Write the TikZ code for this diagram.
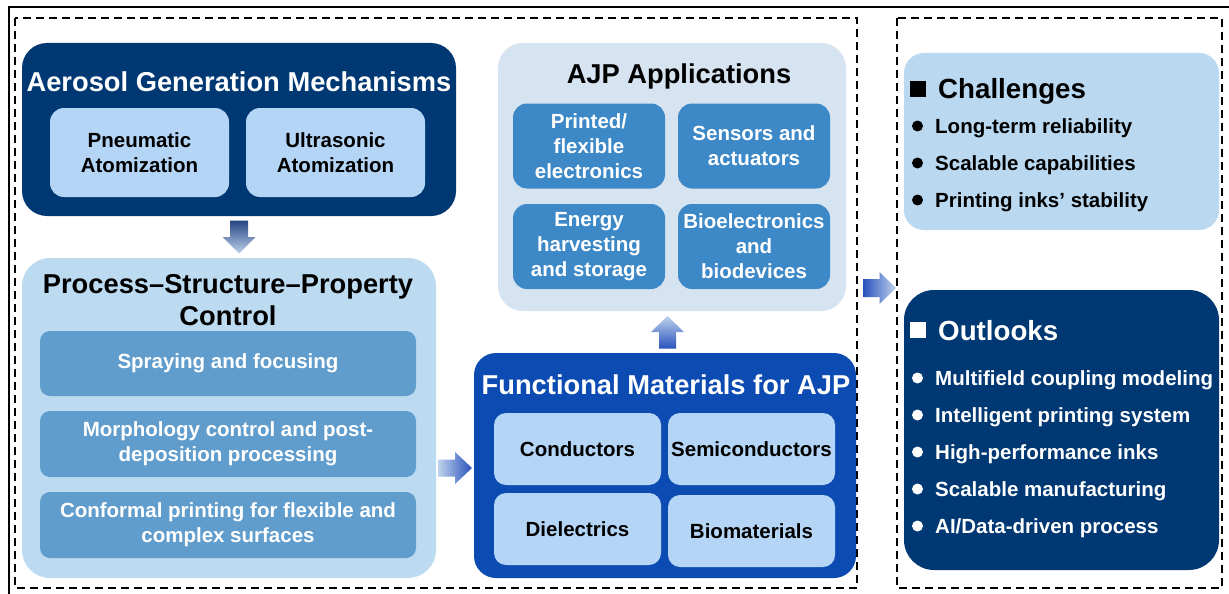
\documentclass[tikz,border=0pt]{standalone}
\usepackage{fontspec}
\setmainfont{Liberation Sans}
\usetikzlibrary{calc}

\definecolor{navy}{RGB}{0,56,115}
\definecolor{paleblue}{RGB}{180,213,246}
\definecolor{procbg}{RGB}{188,218,240}
\definecolor{procin}{RGB}{96,157,204}
\definecolor{funcbg}{RGB}{12,76,178}
\definecolor{appbg}{RGB}{214,228,241}
\definecolor{appin}{RGB}{61,136,199}
\definecolor{chalbg}{RGB}{186,216,239}
\definecolor{arrnavy}{RGB}{38,68,132}
\definecolor{arrroyal}{RGB}{42,82,188}
\definecolor{arrpale}{RGB}{190,210,236}

\begin{document}
\begin{tikzpicture}[x=1pt,y=-1pt,
  sz/.style 2 args={minimum width=#1pt, minimum height=#2pt, inner sep=0pt, outer sep=0pt},
  titletext/.style={font=\fontsize{27.3}{32}\selectfont\bfseries, align=center, inner sep=0pt},
  headtext/.style={font=\fontsize{27.7}{32}\selectfont\bfseries, inner sep=0pt, anchor=base west},
  bodytext/.style={font=\fontsize{20.5}{25}\selectfont\bfseries, align=center},
  itemtext/.style={font=\fontsize{20.5}{25}\selectfont\bfseries, inner sep=0pt, anchor=base west},
  groupframe/.style={draw=black, line width=1.6pt, dash pattern=on 8pt off 5pt},
  bullet/.style={circle, minimum size=11pt, inner sep=0pt},
  sqmark/.style={minimum size=16pt, inner sep=0pt}
]
\useasboundingbox (0,0) rectangle (1229,594);
\clip (0,0) rectangle (1229,594);
\fill[white] (0,0) rectangle (1229,594);

% outer frame and the two dashed groups
\draw[line width=2pt] (8.5,7) rectangle (1250,620);
\draw[groupframe] (15,18) rectangle (857,588);
\draw[groupframe] (897,18) rectangle (1222,588);

% ---- Aerosol generation ----
\node[sz={434}{173}, fill=navy, rounded corners=25pt] (agm) at (239,129.5) {};
\node[titletext, text=white] (agmT) at (239,82) {Aerosol Generation Mechanisms};
\node[sz={179}{89}, fill=paleblue, rounded corners=14pt, bodytext] (pneu) at (139.5,152.5) {Pneumatic\\Atomization};
\node[sz={179}{89}, fill=paleblue, rounded corners=14pt, bodytext] (ultra) at (335.5,152.5) {Ultrasonic\\Atomization};

% ---- Process-structure-property ----
\node[sz={414}{320}, fill=procbg, rounded corners=28pt] (psp) at (229,418) {};
\node[titletext] (pspT) at (228,300) {Process--Structure--Property\\Control};
\node[sz={376}{65}, fill=procin, rounded corners=10pt, bodytext, text=white] (spray) at (228,363.5) {Spraying and focusing};
\node[sz={376}{66}, fill=procin, rounded corners=10pt, bodytext, text=white] (morph) at (228,444) {Morphology control and post-\\deposition processing};
\node[sz={376}{66}, fill=procin, rounded corners=10pt, bodytext, text=white] (conf) at (228,525) {Conformal printing for flexible and\\complex surfaces};

% ---- Functional materials ----
\node[sz={382}{225}, fill=funcbg, rounded corners=22pt] (fm) at (665,465.5) {};
\node[titletext, text=white] (fmT) at (666,385) {Functional Materials for AJP};
\node[sz={167}{72}, fill=paleblue, rounded corners=12pt, bodytext] (cond) at (577.5,449) {Conductors};
\node[sz={167}{72}, fill=paleblue, rounded corners=12pt, bodytext] (semi) at (751.5,449) {Semiconductors};
\node[sz={167}{72}, fill=paleblue, rounded corners=12pt, bodytext] (diel) at (577.5,529) {Dielectrics};
\node[sz={167}{72}, fill=paleblue, rounded corners=12pt, bodytext] (biom) at (751.5,531) {Biomaterials};

% ---- Applications ----
\node[sz={348}{268}, fill=appbg, rounded corners=25pt] (app) at (672,177) {};
\node[titletext] (appT) at (679,76) {AJP Applications};
\node[sz={152}{85}, fill=appin, rounded corners=14pt, bodytext, text=white] (print) at (589,146) {Printed/\\flexible\\electronics};
\node[sz={152}{85}, fill=appin, rounded corners=14pt, bodytext, text=white] (sens) at (754,146) {Sensors and\\actuators};
\node[sz={152}{85}, fill=appin, rounded corners=14pt, bodytext, text=white] (energy) at (589,246.5) {Energy\\harvesting\\and storage};
\node[sz={152}{85}, fill=appin, rounded corners=14pt, bodytext, text=white] (bioel) at (754,246.5) {Bioelectronics\\and\\biodevices};

% ---- Challenges ----
\node[sz={315}{177}, fill=chalbg, rounded corners=20pt] (chal) at (1061.5,141.5) {};
\node[sqmark, fill=black] (chalM) at (918,89) {};
\node[headtext] (chalT) at (938,98.9) {Challenges};
\foreach \y/\t [count=\i] in {126/{Long-term reliability}, 163/{Scalable capabilities}, 200/{Printing inks’ stability}}{
  \node[bullet, fill=black] (chalB\i) at (917.5,\y) {};
  \node[itemtext] (chalI\i) at (935,\y+7.3) {\t};
}

% ---- Outlooks ----
\node[sz={315}{280}, fill=navy, rounded corners=30pt] (outl) at (1061.5,430) {};
\node[sqmark, fill=white] (outlM) at (918,330) {};
\node[headtext, text=white] (outlT) at (938,340.9) {Outlooks};
\foreach \y/\t [count=\i] in {378/{Multifield coupling modeling}, 415/{Intelligent printing system}, 452/{High-performance inks}, 489/{Scalable manufacturing}, 526/{AI/Data-driven process}}{
  \node[bullet, fill=white] (outlB\i) at (917.5,\y) {};
  \node[itemtext, text=white] (outlI\i) at (935,\y+7.3) {\t};
}

% ---- block arrows between the stages ----
% generation -> process control (downward)
\coordinate (a1) at ($(agm.south)!0.5!(agm.south|-psp.north)$);
\shade[top color=arrnavy, bottom color=arrpale]
  ($(a1)+(-9,-16.5)$) -- ++(18,0) -- ++(0,16.5) -- ++(7.5,0) -- ($(a1)+(0,16.5)$)
  -- ($(a1)+(-16.5,0)$) -- ++(7.5,0) -- cycle;
% process control -> materials (rightward)
\coordinate (a2) at ($(psp.east|-0,468)!0.5!(fm.west|-0,468)$);
\shade[left color=arrpale, right color=arrroyal]
  ($(a2)+(-17,-8.5)$) -- ($(a2)+(0,-8.5)$) -- ($(a2)+(0,-16)$) -- ($(a2)+(17,0)$)
  -- ($(a2)+(0,16)$) -- ($(a2)+(0,8.5)$) -- ($(a2)+(-17,8.5)$) -- cycle;
% materials -> applications (upward)
\coordinate (a3) at ($(fm.north)!0.5!(fm.north|-app.south)+(2.5,0)$);
\shade[top color=arrpale, bottom color=arrroyal]
  ($(a3)+(0,-16)$) -- ($(a3)+(16.5,0)$) -- ($(a3)+(8.5,0)$) -- ($(a3)+(8.5,16.5)$)
  -- ($(a3)+(-8.5,16.5)$) -- ($(a3)+(-8.5,0)$) -- ($(a3)+(-16.5,0)$) -- cycle;
% applications -> challenges and outlooks (rightward)
\coordinate (a4) at (879.5,288);
\shade[left color=arrroyal, right color=arrpale]
  ($(a4)+(-16.5,-9)$) -- ($(a4)+(0,-9)$) -- ($(a4)+(0,-16)$) -- ($(a4)+(16.5,0)$)
  -- ($(a4)+(0,16)$) -- ($(a4)+(0,9)$) -- ($(a4)+(-16.5,9)$) -- cycle;
\end{tikzpicture}
\end{document}
